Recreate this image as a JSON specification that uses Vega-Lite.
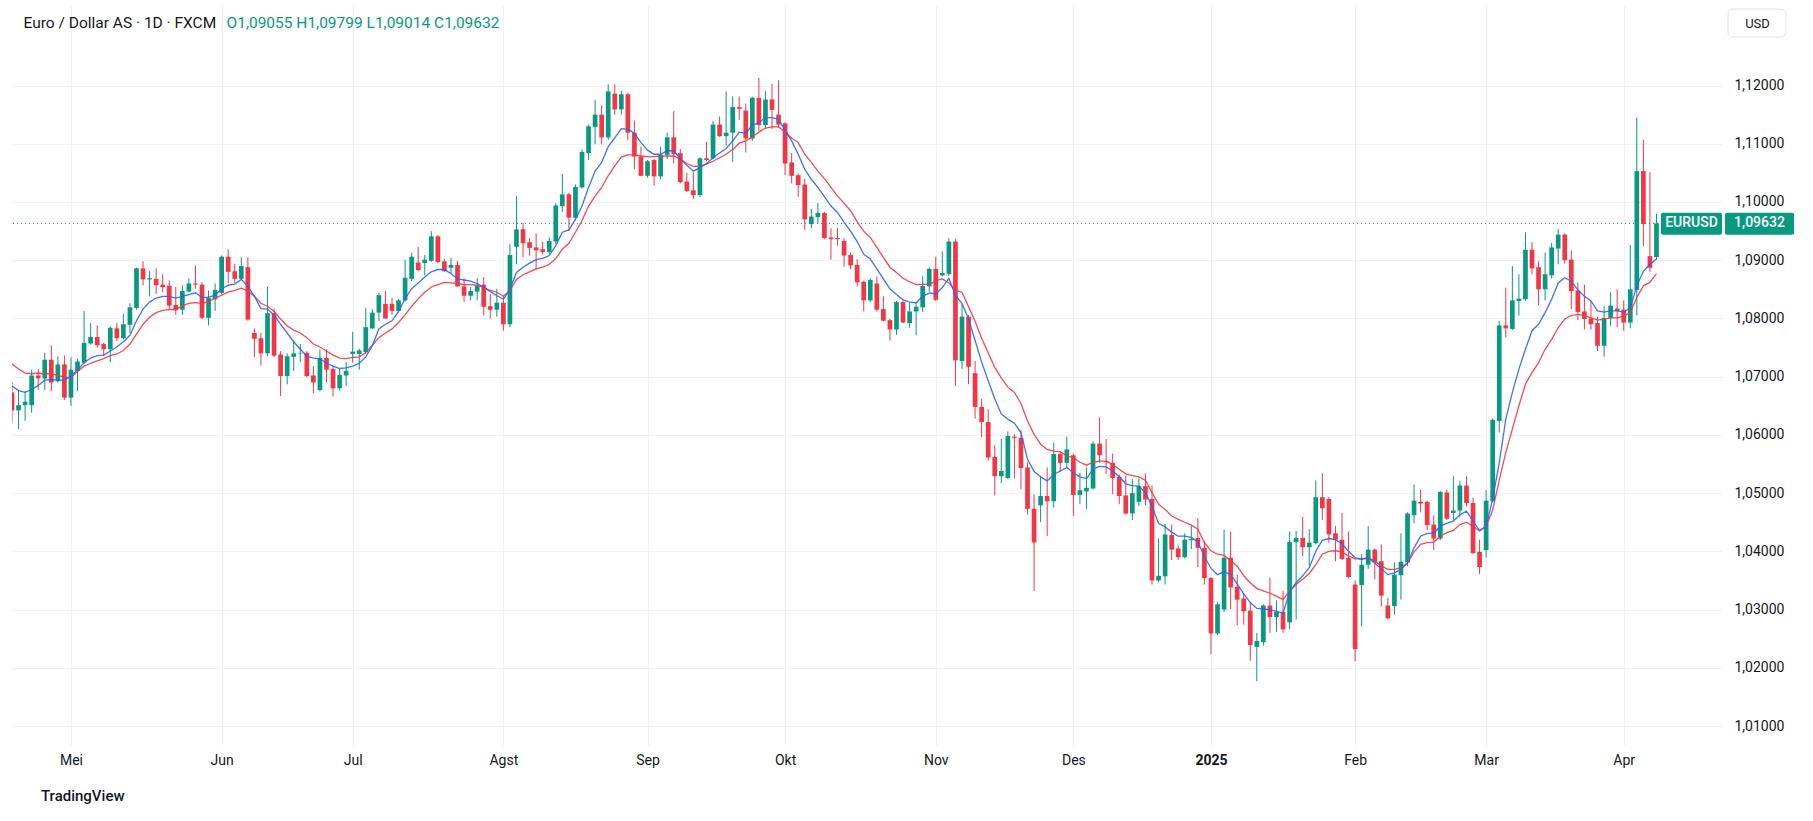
{
  "$schema": "https://vega.github.io/schema/vega-lite/v6.json",
  "width": 1710,
  "height": 740,
  "autosize": {"type": "none"},
  "padding": {"left": 12, "top": 5, "right": 91, "bottom": 76},
  "background": "white",
  "title": {"text": "TradingView", "orient": "bottom", "anchor": "start", "frame": "group", "dx": 29, "offset": 22, "fontSize": 15, "fontWeight": 500, "color": "#131722", "font": "Roboto"},
  "datasets": {
    "candles": [
      {"d":"2024-04-18","o":1.0673,"h":1.0690,"l":1.0620,"c":1.0642,"f":1.0684,"s":1.0722},
      {"d":"2024-04-19","o":1.0642,"h":1.0677,"l":1.0610,"c":1.0651,"f":1.0676,"s":1.0713},
      {"d":"2024-04-22","o":1.0651,"h":1.0675,"l":1.0624,"c":1.0657,"f":1.0673,"s":1.0706},
      {"d":"2024-04-23","o":1.0651,"h":1.0712,"l":1.0638,"c":1.0702,"f":1.0678,"s":1.0705},
      {"d":"2024-04-24","o":1.0702,"h":1.0713,"l":1.0677,"c":1.0697,"f":1.0685,"s":1.0706},
      {"d":"2024-04-25","o":1.0697,"h":1.0741,"l":1.0677,"c":1.0729,"f":1.0694,"s":1.0705},
      {"d":"2024-04-26","o":1.0729,"h":1.0754,"l":1.0675,"c":1.0690,"f":1.0695,"s":1.0705},
      {"d":"2024-04-29","o":1.0692,"h":1.0735,"l":1.0690,"c":1.0721,"f":1.0694,"s":1.0702},
      {"d":"2024-04-30","o":1.0721,"h":1.0736,"l":1.0660,"c":1.0664,"f":1.0694,"s":1.0699},
      {"d":"2024-05-01","o":1.0664,"h":1.0733,"l":1.0650,"c":1.0712,"f":1.0701,"s":1.0698},
      {"d":"2024-05-02","o":1.0710,"h":1.0731,"l":1.0675,"c":1.0726,"f":1.0712,"s":1.0709},
      {"d":"2024-05-03","o":1.0724,"h":1.0813,"l":1.0722,"c":1.0758,"f":1.0724,"s":1.0718},
      {"d":"2024-05-06","o":1.0757,"h":1.0792,"l":1.0755,"c":1.0768,"f":1.0732,"s":1.0723},
      {"d":"2024-05-07","o":1.0768,"h":1.0788,"l":1.0750,"c":1.0754,"f":1.0736,"s":1.0727},
      {"d":"2024-05-08","o":1.0756,"h":1.0758,"l":1.0735,"c":1.0747,"f":1.0737,"s":1.0731},
      {"d":"2024-05-09","o":1.0747,"h":1.0786,"l":1.0725,"c":1.0784,"f":1.0744,"s":1.0736},
      {"d":"2024-05-10","o":1.0783,"h":1.0792,"l":1.0761,"c":1.0766,"f":1.0751,"s":1.0739},
      {"d":"2024-05-13","o":1.0766,"h":1.0808,"l":1.0764,"c":1.0790,"f":1.0760,"s":1.0745},
      {"d":"2024-05-14","o":1.0789,"h":1.0826,"l":1.0775,"c":1.0819,"f":1.0771,"s":1.0756},
      {"d":"2024-05-15","o":1.0818,"h":1.0887,"l":1.0815,"c":1.0886,"f":1.0796,"s":1.0773},
      {"d":"2024-05-16","o":1.0886,"h":1.0898,"l":1.0857,"c":1.0867,"f":1.0816,"s":1.0790},
      {"d":"2024-05-17","o":1.0867,"h":1.0881,"l":1.0838,"c":1.0869,"f":1.0828,"s":1.0802},
      {"d":"2024-05-20","o":1.0868,"h":1.0886,"l":1.0842,"c":1.0857,"f":1.0835,"s":1.0810},
      {"d":"2024-05-21","o":1.0858,"h":1.0876,"l":1.0845,"c":1.0854,"f":1.0838,"s":1.0814},
      {"d":"2024-05-22","o":1.0856,"h":1.0865,"l":1.0816,"c":1.0822,"f":1.0838,"s":1.0815},
      {"d":"2024-05-23","o":1.0823,"h":1.0854,"l":1.0806,"c":1.0814,"f":1.0835,"s":1.0815},
      {"d":"2024-05-24","o":1.0815,"h":1.0857,"l":1.0806,"c":1.0847,"f":1.0838,"s":1.0822},
      {"d":"2024-05-27","o":1.0846,"h":1.0869,"l":1.0845,"c":1.0860,"f":1.0841,"s":1.0826},
      {"d":"2024-05-28","o":1.0860,"h":1.0891,"l":1.0851,"c":1.0858,"f":1.0844,"s":1.0827},
      {"d":"2024-05-29","o":1.0858,"h":1.0862,"l":1.0799,"c":1.0801,"f":1.0836,"s":1.0826},
      {"d":"2024-05-30","o":1.0801,"h":1.0848,"l":1.0788,"c":1.0835,"f":1.0836,"s":1.0829},
      {"d":"2024-05-31","o":1.0833,"h":1.0860,"l":1.0813,"c":1.0849,"f":1.0840,"s":1.0835},
      {"d":"2024-06-03","o":1.0844,"h":1.0908,"l":1.0842,"c":1.0906,"f":1.0851,"s":1.0840},
      {"d":"2024-06-04","o":1.0906,"h":1.0919,"l":1.0861,"c":1.0880,"f":1.0857,"s":1.0845},
      {"d":"2024-06-05","o":1.0881,"h":1.0894,"l":1.0861,"c":1.0868,"f":1.0859,"s":1.0848},
      {"d":"2024-06-06","o":1.0868,"h":1.0905,"l":1.0866,"c":1.0890,"f":1.0867,"s":1.0852},
      {"d":"2024-06-07","o":1.0888,"h":1.0905,"l":1.0796,"c":1.0798,"f":1.0855,"s":1.0847},
      {"d":"2024-06-10","o":1.0775,"h":1.0783,"l":1.0734,"c":1.0765,"f":1.0838,"s":1.0838},
      {"d":"2024-06-11","o":1.0766,"h":1.0775,"l":1.0719,"c":1.0740,"f":1.0817,"s":1.0826},
      {"d":"2024-06-12","o":1.0740,"h":1.0854,"l":1.0735,"c":1.0809,"f":1.0816,"s":1.0821},
      {"d":"2024-06-13","o":1.0809,"h":1.0817,"l":1.0734,"c":1.0736,"f":1.0806,"s":1.0812},
      {"d":"2024-06-14","o":1.0738,"h":1.0744,"l":1.0667,"c":1.0701,"f":1.0790,"s":1.0799},
      {"d":"2024-06-17","o":1.0701,"h":1.0740,"l":1.0687,"c":1.0735,"f":1.0775,"s":1.0787},
      {"d":"2024-06-18","o":1.0734,"h":1.0761,"l":1.0710,"c":1.0740,"f":1.0760,"s":1.0780},
      {"d":"2024-06-19","o":1.0740,"h":1.0756,"l":1.0725,"c":1.0741,"f":1.0747,"s":1.0775},
      {"d":"2024-06-20","o":1.0741,"h":1.0744,"l":1.0699,"c":1.0701,"f":1.0735,"s":1.0767},
      {"d":"2024-06-21","o":1.0702,"h":1.0718,"l":1.0672,"c":1.0690,"f":1.0732,"s":1.0756},
      {"d":"2024-06-24","o":1.0677,"h":1.0747,"l":1.0675,"c":1.0732,"f":1.0731,"s":1.0751},
      {"d":"2024-06-25","o":1.0732,"h":1.0747,"l":1.0690,"c":1.0712,"f":1.0723,"s":1.0744},
      {"d":"2024-06-26","o":1.0713,"h":1.0718,"l":1.0666,"c":1.0680,"f":1.0718,"s":1.0737},
      {"d":"2024-06-27","o":1.0680,"h":1.0713,"l":1.0676,"c":1.0703,"f":1.0714,"s":1.0732},
      {"d":"2024-06-28","o":1.0702,"h":1.0725,"l":1.0684,"c":1.0710,"f":1.0715,"s":1.0731},
      {"d":"2024-07-01","o":1.0739,"h":1.0777,"l":1.0724,"c":1.0743,"f":1.0718,"s":1.0733},
      {"d":"2024-07-02","o":1.0739,"h":1.0748,"l":1.0712,"c":1.0745,"f":1.0723,"s":1.0734},
      {"d":"2024-07-03","o":1.0742,"h":1.0818,"l":1.0740,"c":1.0785,"f":1.0734,"s":1.0741},
      {"d":"2024-07-04","o":1.0783,"h":1.0816,"l":1.0782,"c":1.0810,"f":1.0753,"s":1.0754},
      {"d":"2024-07-05","o":1.0810,"h":1.0844,"l":1.0796,"c":1.0840,"f":1.0782,"s":1.0767},
      {"d":"2024-07-08","o":1.0825,"h":1.0847,"l":1.0799,"c":1.0800,"f":1.0790,"s":1.0775},
      {"d":"2024-07-09","o":1.0825,"h":1.0835,"l":1.0806,"c":1.0813,"f":1.0796,"s":1.0782},
      {"d":"2024-07-10","o":1.0813,"h":1.0833,"l":1.0810,"c":1.0831,"f":1.0812,"s":1.0793},
      {"d":"2024-07-11","o":1.0831,"h":1.0901,"l":1.0829,"c":1.0870,"f":1.0834,"s":1.0806},
      {"d":"2024-07-12","o":1.0868,"h":1.0913,"l":1.0864,"c":1.0906,"f":1.0851,"s":1.0821},
      {"d":"2024-07-15","o":1.0896,"h":1.0923,"l":1.0881,"c":1.0883,"f":1.0861,"s":1.0834},
      {"d":"2024-07-16","o":1.0895,"h":1.0909,"l":1.0874,"c":1.0901,"f":1.0871,"s":1.0845},
      {"d":"2024-07-17","o":1.0899,"h":1.0950,"l":1.0897,"c":1.0941,"f":1.0880,"s":1.0854},
      {"d":"2024-07-18","o":1.0941,"h":1.0943,"l":1.0895,"c":1.0897,"f":1.0884,"s":1.0858},
      {"d":"2024-07-19","o":1.0898,"h":1.0902,"l":1.0880,"c":1.0881,"f":1.0884,"s":1.0862},
      {"d":"2024-07-22","o":1.0887,"h":1.0904,"l":1.0877,"c":1.0892,"f":1.0877,"s":1.0861},
      {"d":"2024-07-23","o":1.0892,"h":1.0899,"l":1.0854,"c":1.0855,"f":1.0868,"s":1.0860},
      {"d":"2024-07-24","o":1.0855,"h":1.0869,"l":1.0829,"c":1.0839,"f":1.0866,"s":1.0858},
      {"d":"2024-07-25","o":1.0839,"h":1.0854,"l":1.0831,"c":1.0847,"f":1.0864,"s":1.0858},
      {"d":"2024-07-26","o":1.0846,"h":1.0869,"l":1.0831,"c":1.0856,"f":1.0860,"s":1.0857},
      {"d":"2024-07-29","o":1.0858,"h":1.0871,"l":1.0805,"c":1.0820,"f":1.0854,"s":1.0853},
      {"d":"2024-07-30","o":1.0821,"h":1.0842,"l":1.0800,"c":1.0815,"f":1.0846,"s":1.0848},
      {"d":"2024-07-31","o":1.0815,"h":1.0851,"l":1.0803,"c":1.0827,"f":1.0839,"s":1.0845},
      {"d":"2024-08-01","o":1.0827,"h":1.0839,"l":1.0779,"c":1.0790,"f":1.0833,"s":1.0838},
      {"d":"2024-08-02","o":1.0790,"h":1.0928,"l":1.0785,"c":1.0909,"f":1.0850,"s":1.0848},
      {"d":"2024-08-05","o":1.0923,"h":1.1010,"l":1.0893,"c":1.0953,"f":1.0879,"s":1.0867},
      {"d":"2024-08-06","o":1.0953,"h":1.0964,"l":1.0905,"c":1.0929,"f":1.0888,"s":1.0875},
      {"d":"2024-08-07","o":1.0931,"h":1.0938,"l":1.0908,"c":1.0921,"f":1.0895,"s":1.0880},
      {"d":"2024-08-08","o":1.0922,"h":1.0946,"l":1.0884,"c":1.0917,"f":1.0901,"s":1.0885},
      {"d":"2024-08-09","o":1.0919,"h":1.0932,"l":1.0910,"c":1.0914,"f":1.0903,"s":1.0888},
      {"d":"2024-08-12","o":1.0914,"h":1.0939,"l":1.0910,"c":1.0933,"f":1.0908,"s":1.0893},
      {"d":"2024-08-13","o":1.0932,"h":1.0998,"l":1.0928,"c":1.0994,"f":1.0925,"s":1.0903},
      {"d":"2024-08-14","o":1.0993,"h":1.1048,"l":1.0983,"c":1.1013,"f":1.0948,"s":1.0919},
      {"d":"2024-08-15","o":1.1013,"h":1.1016,"l":1.0950,"c":1.0973,"f":1.0952,"s":1.0929},
      {"d":"2024-08-16","o":1.0973,"h":1.1030,"l":1.0969,"c":1.1026,"f":1.0970,"s":1.0948},
      {"d":"2024-08-19","o":1.1025,"h":1.1090,"l":1.1023,"c":1.1086,"f":1.0993,"s":1.0968},
      {"d":"2024-08-20","o":1.1084,"h":1.1133,"l":1.1072,"c":1.1130,"f":1.1025,"s":1.0993},
      {"d":"2024-08-21","o":1.1129,"h":1.1175,"l":1.1099,"c":1.1150,"f":1.1053,"s":1.1010},
      {"d":"2024-08-22","o":1.1150,"h":1.1166,"l":1.1099,"c":1.1111,"f":1.1068,"s":1.1025},
      {"d":"2024-08-23","o":1.1111,"h":1.1202,"l":1.1107,"c":1.1190,"f":1.1095,"s":1.1045},
      {"d":"2024-08-26","o":1.1186,"h":1.1202,"l":1.1150,"c":1.1159,"f":1.1110,"s":1.1062},
      {"d":"2024-08-27","o":1.1159,"h":1.1191,"l":1.1150,"c":1.1185,"f":1.1126,"s":1.1077},
      {"d":"2024-08-28","o":1.1185,"h":1.1187,"l":1.1106,"c":1.1119,"f":1.1125,"s":1.1081},
      {"d":"2024-08-29","o":1.1119,"h":1.1140,"l":1.1057,"c":1.1078,"f":1.1118,"s":1.1081},
      {"d":"2024-08-30","o":1.1078,"h":1.1095,"l":1.1044,"c":1.1045,"f":1.1102,"s":1.1079},
      {"d":"2024-09-02","o":1.1045,"h":1.1072,"l":1.1042,"c":1.1070,"f":1.1089,"s":1.1078},
      {"d":"2024-09-03","o":1.1072,"h":1.1074,"l":1.1028,"c":1.1044,"f":1.1082,"s":1.1078},
      {"d":"2024-09-04","o":1.1044,"h":1.1095,"l":1.1039,"c":1.1081,"f":1.1082,"s":1.1079},
      {"d":"2024-09-05","o":1.1081,"h":1.1119,"l":1.1074,"c":1.1111,"f":1.1088,"s":1.1079},
      {"d":"2024-09-06","o":1.1111,"h":1.1156,"l":1.1066,"c":1.1082,"f":1.1088,"s":1.1079},
      {"d":"2024-09-09","o":1.1084,"h":1.1091,"l":1.1032,"c":1.1034,"f":1.1074,"s":1.1074},
      {"d":"2024-09-10","o":1.1035,"h":1.1050,"l":1.1017,"c":1.1019,"f":1.1063,"s":1.1066},
      {"d":"2024-09-11","o":1.1020,"h":1.1051,"l":1.1005,"c":1.1012,"f":1.1053,"s":1.1061},
      {"d":"2024-09-12","o":1.1012,"h":1.1077,"l":1.1008,"c":1.1075,"f":1.1059,"s":1.1061},
      {"d":"2024-09-13","o":1.1075,"h":1.1103,"l":1.1070,"c":1.1072,"f":1.1066,"s":1.1065},
      {"d":"2024-09-16","o":1.1075,"h":1.1139,"l":1.1073,"c":1.1133,"f":1.1076,"s":1.1070},
      {"d":"2024-09-17","o":1.1133,"h":1.1147,"l":1.1112,"c":1.1113,"f":1.1084,"s":1.1076},
      {"d":"2024-09-18","o":1.1113,"h":1.1190,"l":1.1097,"c":1.1119,"f":1.1092,"s":1.1082},
      {"d":"2024-09-19","o":1.1119,"h":1.1181,"l":1.1069,"c":1.1163,"f":1.1105,"s":1.1090},
      {"d":"2024-09-20","o":1.1163,"h":1.1181,"l":1.1141,"c":1.1160,"f":1.1120,"s":1.1101},
      {"d":"2024-09-23","o":1.1157,"h":1.1169,"l":1.1085,"c":1.1109,"f":1.1118,"s":1.1105},
      {"d":"2024-09-24","o":1.1109,"h":1.1181,"l":1.1105,"c":1.1179,"f":1.1132,"s":1.1112},
      {"d":"2024-09-25","o":1.1179,"h":1.1213,"l":1.1122,"c":1.1132,"f":1.1136,"s":1.1120},
      {"d":"2024-09-26","o":1.1132,"h":1.1190,"l":1.1125,"c":1.1176,"f":1.1145,"s":1.1127},
      {"d":"2024-09-27","o":1.1176,"h":1.1203,"l":1.1125,"c":1.1158,"f":1.1145,"s":1.1129},
      {"d":"2024-09-30","o":1.1150,"h":1.1209,"l":1.1127,"c":1.1133,"f":1.1142,"s":1.1129},
      {"d":"2024-10-01","o":1.1135,"h":1.1137,"l":1.1046,"c":1.1066,"f":1.1123,"s":1.1120},
      {"d":"2024-10-02","o":1.1068,"h":1.1084,"l":1.1032,"c":1.1045,"f":1.1105,"s":1.1110},
      {"d":"2024-10-03","o":1.1046,"h":1.1049,"l":1.1009,"c":1.1029,"f":1.1082,"s":1.1102},
      {"d":"2024-10-04","o":1.1030,"h":1.1040,"l":1.0952,"c":1.0970,"f":1.1056,"s":1.1082},
      {"d":"2024-10-07","o":1.0962,"h":1.0988,"l":1.0955,"c":1.0975,"f":1.1039,"s":1.1068},
      {"d":"2024-10-08","o":1.0974,"h":1.0998,"l":1.0962,"c":1.0981,"f":1.1025,"s":1.1053},
      {"d":"2024-10-09","o":1.0981,"h":1.0983,"l":1.0936,"c":1.0938,"f":1.1009,"s":1.1040},
      {"d":"2024-10-10","o":1.0939,"h":1.0955,"l":1.0901,"c":1.0936,"f":1.0993,"s":1.1025},
      {"d":"2024-10-11","o":1.0938,"h":1.0955,"l":1.0925,"c":1.0936,"f":1.0982,"s":1.1010},
      {"d":"2024-10-14","o":1.0933,"h":1.0938,"l":1.0889,"c":1.0908,"f":1.0965,"s":1.0998},
      {"d":"2024-10-15","o":1.0909,"h":1.0913,"l":1.0884,"c":1.0891,"f":1.0950,"s":1.0985},
      {"d":"2024-10-16","o":1.0892,"h":1.0902,"l":1.0855,"c":1.0862,"f":1.0932,"s":1.0966},
      {"d":"2024-10-17","o":1.0863,"h":1.0865,"l":1.0812,"c":1.0831,"f":1.0910,"s":1.0950},
      {"d":"2024-10-18","o":1.0831,"h":1.0869,"l":1.0828,"c":1.0866,"f":1.0902,"s":1.0939},
      {"d":"2024-10-21","o":1.0860,"h":1.0872,"l":1.0812,"c":1.0815,"f":1.0885,"s":1.0922},
      {"d":"2024-10-22","o":1.0816,"h":1.0838,"l":1.0795,"c":1.0796,"f":1.0868,"s":1.0905},
      {"d":"2024-10-23","o":1.0797,"h":1.0799,"l":1.0762,"c":1.0781,"f":1.0851,"s":1.0888},
      {"d":"2024-10-24","o":1.0781,"h":1.0830,"l":1.0772,"c":1.0828,"f":1.0841,"s":1.0879},
      {"d":"2024-10-25","o":1.0828,"h":1.0830,"l":1.0792,"c":1.0793,"f":1.0832,"s":1.0869},
      {"d":"2024-10-28","o":1.0792,"h":1.0826,"l":1.0784,"c":1.0812,"f":1.0828,"s":1.0863},
      {"d":"2024-10-29","o":1.0812,"h":1.0828,"l":1.0771,"c":1.0820,"f":1.0827,"s":1.0858},
      {"d":"2024-10-30","o":1.0819,"h":1.0873,"l":1.0811,"c":1.0856,"f":1.0838,"s":1.0859},
      {"d":"2024-10-31","o":1.0855,"h":1.0888,"l":1.0846,"c":1.0885,"f":1.0844,"s":1.0858},
      {"d":"2024-11-01","o":1.0885,"h":1.0906,"l":1.0830,"c":1.0832,"f":1.0842,"s":1.0865},
      {"d":"2024-11-04","o":1.0874,"h":1.0915,"l":1.0872,"c":1.0878,"f":1.0853,"s":1.0868},
      {"d":"2024-11-05","o":1.0876,"h":1.0938,"l":1.0873,"c":1.0932,"f":1.0869,"s":1.0861},
      {"d":"2024-11-06","o":1.0932,"h":1.0936,"l":1.0684,"c":1.0728,"f":1.0839,"s":1.0848},
      {"d":"2024-11-07","o":1.0727,"h":1.0825,"l":1.0713,"c":1.0803,"f":1.0826,"s":1.0845},
      {"d":"2024-11-08","o":1.0803,"h":1.0806,"l":1.0687,"c":1.0717,"f":1.0799,"s":1.0820},
      {"d":"2024-11-11","o":1.0706,"h":1.0727,"l":1.0628,"c":1.0648,"f":1.0762,"s":1.0795},
      {"d":"2024-11-12","o":1.0648,"h":1.0662,"l":1.0596,"c":1.0622,"f":1.0725,"s":1.0766},
      {"d":"2024-11-13","o":1.0622,"h":1.0644,"l":1.0556,"c":1.0561,"f":1.0693,"s":1.0741},
      {"d":"2024-11-14","o":1.0562,"h":1.0582,"l":1.0496,"c":1.0529,"f":1.0662,"s":1.0716},
      {"d":"2024-11-15","o":1.0529,"h":1.0593,"l":1.0517,"c":1.0538,"f":1.0636,"s":1.0698},
      {"d":"2024-11-18","o":1.0526,"h":1.0606,"l":1.0524,"c":1.0598,"f":1.0627,"s":1.0682},
      {"d":"2024-11-19","o":1.0597,"h":1.0601,"l":1.0525,"c":1.0595,"f":1.0620,"s":1.0673},
      {"d":"2024-11-20","o":1.0595,"h":1.0608,"l":1.0507,"c":1.0543,"f":1.0604,"s":1.0654},
      {"d":"2024-11-21","o":1.0544,"h":1.0553,"l":1.0463,"c":1.0473,"f":1.0558,"s":1.0624},
      {"d":"2024-11-22","o":1.0473,"h":1.0498,"l":1.0332,"c":1.0415,"f":1.0537,"s":1.0601},
      {"d":"2024-11-25","o":1.0479,"h":1.0529,"l":1.0450,"c":1.0495,"f":1.0528,"s":1.0584},
      {"d":"2024-11-26","o":1.0495,"h":1.0544,"l":1.0426,"c":1.0486,"f":1.0521,"s":1.0575},
      {"d":"2024-11-27","o":1.0486,"h":1.0587,"l":1.0475,"c":1.0567,"f":1.0532,"s":1.0572},
      {"d":"2024-11-28","o":1.0567,"h":1.0571,"l":1.0536,"c":1.0552,"f":1.0538,"s":1.0571},
      {"d":"2024-11-29","o":1.0552,"h":1.0597,"l":1.0544,"c":1.0575,"f":1.0544,"s":1.0564},
      {"d":"2024-12-02","o":1.0565,"h":1.0568,"l":1.0461,"c":1.0497,"f":1.0535,"s":1.0561},
      {"d":"2024-12-03","o":1.0497,"h":1.0535,"l":1.0481,"c":1.0505,"f":1.0528,"s":1.0553},
      {"d":"2024-12-04","o":1.0503,"h":1.0544,"l":1.0473,"c":1.0509,"f":1.0525,"s":1.0548},
      {"d":"2024-12-05","o":1.0508,"h":1.0589,"l":1.0506,"c":1.0585,"f":1.0541,"s":1.0553},
      {"d":"2024-12-06","o":1.0585,"h":1.0630,"l":1.0552,"c":1.0565,"f":1.0546,"s":1.0555},
      {"d":"2024-12-09","o":1.0555,"h":1.0593,"l":1.0533,"c":1.0553,"f":1.0545,"s":1.0555},
      {"d":"2024-12-10","o":1.0552,"h":1.0568,"l":1.0498,"c":1.0526,"f":1.0538,"s":1.0549},
      {"d":"2024-12-11","o":1.0528,"h":1.0532,"l":1.0481,"c":1.0495,"f":1.0528,"s":1.0541},
      {"d":"2024-12-12","o":1.0496,"h":1.0530,"l":1.0463,"c":1.0465,"f":1.0516,"s":1.0533},
      {"d":"2024-12-13","o":1.0465,"h":1.0524,"l":1.0454,"c":1.0500,"f":1.0513,"s":1.0530},
      {"d":"2024-12-16","o":1.0485,"h":1.0525,"l":1.0478,"c":1.0512,"f":1.0512,"s":1.0528},
      {"d":"2024-12-17","o":1.0512,"h":1.0534,"l":1.0479,"c":1.0489,"f":1.0501,"s":1.0522},
      {"d":"2024-12-18","o":1.0490,"h":1.0513,"l":1.0343,"c":1.0350,"f":1.0478,"s":1.0501},
      {"d":"2024-12-19","o":1.0350,"h":1.0422,"l":1.0347,"c":1.0358,"f":1.0448,"s":1.0481},
      {"d":"2024-12-20","o":1.0357,"h":1.0447,"l":1.0343,"c":1.0429,"f":1.0442,"s":1.0472},
      {"d":"2024-12-23","o":1.0428,"h":1.0446,"l":1.0385,"c":1.0403,"f":1.0433,"s":1.0461},
      {"d":"2024-12-24","o":1.0405,"h":1.0410,"l":1.0385,"c":1.0390,"f":1.0426,"s":1.0455},
      {"d":"2024-12-26","o":1.0390,"h":1.0431,"l":1.0388,"c":1.0420,"f":1.0426,"s":1.0450},
      {"d":"2024-12-27","o":1.0419,"h":1.0444,"l":1.0404,"c":1.0421,"f":1.0424,"s":1.0445},
      {"d":"2024-12-30","o":1.0423,"h":1.0457,"l":1.0373,"c":1.0406,"f":1.0416,"s":1.0438},
      {"d":"2024-12-31","o":1.0406,"h":1.0418,"l":1.0343,"c":1.0354,"f":1.0391,"s":1.0415},
      {"d":"2025-01-02","o":1.0354,"h":1.0356,"l":1.0223,"c":1.0259,"f":1.0371,"s":1.0401},
      {"d":"2025-01-03","o":1.0259,"h":1.0312,"l":1.0257,"c":1.0309,"f":1.0360,"s":1.0395},
      {"d":"2025-01-06","o":1.0300,"h":1.0437,"l":1.0296,"c":1.0389,"f":1.0365,"s":1.0393},
      {"d":"2025-01-07","o":1.0389,"h":1.0434,"l":1.0301,"c":1.0338,"f":1.0360,"s":1.0384},
      {"d":"2025-01-08","o":1.0339,"h":1.0360,"l":1.0273,"c":1.0317,"f":1.0344,"s":1.0375},
      {"d":"2025-01-09","o":1.0319,"h":1.0328,"l":1.0274,"c":1.0297,"f":1.0327,"s":1.0358},
      {"d":"2025-01-10","o":1.0298,"h":1.0312,"l":1.0212,"c":1.0239,"f":1.0312,"s":1.0346},
      {"d":"2025-01-13","o":1.0236,"h":1.0260,"l":1.0177,"c":1.0246,"f":1.0302,"s":1.0336},
      {"d":"2025-01-14","o":1.0244,"h":1.0309,"l":1.0238,"c":1.0307,"f":1.0301,"s":1.0332},
      {"d":"2025-01-15","o":1.0307,"h":1.0355,"l":1.0260,"c":1.0287,"f":1.0300,"s":1.0328},
      {"d":"2025-01-16","o":1.0287,"h":1.0316,"l":1.0261,"c":1.0296,"f":1.0297,"s":1.0323},
      {"d":"2025-01-17","o":1.0296,"h":1.0332,"l":1.0260,"c":1.0266,"f":1.0294,"s":1.0317},
      {"d":"2025-01-20","o":1.0278,"h":1.0434,"l":1.0267,"c":1.0416,"f":1.0330,"s":1.0332},
      {"d":"2025-01-21","o":1.0416,"h":1.0435,"l":1.0283,"c":1.0423,"f":1.0346,"s":1.0343},
      {"d":"2025-01-22","o":1.0423,"h":1.0459,"l":1.0392,"c":1.0407,"f":1.0358,"s":1.0352},
      {"d":"2025-01-23","o":1.0407,"h":1.0438,"l":1.0375,"c":1.0415,"f":1.0372,"s":1.0362},
      {"d":"2025-01-24","o":1.0414,"h":1.0522,"l":1.0412,"c":1.0493,"f":1.0400,"s":1.0377},
      {"d":"2025-01-27","o":1.0493,"h":1.0534,"l":1.0454,"c":1.0474,"f":1.0419,"s":1.0395},
      {"d":"2025-01-28","o":1.0490,"h":1.0493,"l":1.0415,"c":1.0429,"f":1.0422,"s":1.0400},
      {"d":"2025-01-29","o":1.0431,"h":1.0444,"l":1.0383,"c":1.0420,"f":1.0420,"s":1.0401},
      {"d":"2025-01-30","o":1.0420,"h":1.0466,"l":1.0385,"c":1.0387,"f":1.0413,"s":1.0399},
      {"d":"2025-01-31","o":1.0389,"h":1.0434,"l":1.0354,"c":1.0356,"f":1.0400,"s":1.0392},
      {"d":"2025-02-03","o":1.0343,"h":1.0350,"l":1.0211,"c":1.0232,"f":1.0389,"s":1.0387},
      {"d":"2025-02-04","o":1.0342,"h":1.0395,"l":1.0271,"c":1.0377,"f":1.0386,"s":1.0387},
      {"d":"2025-02-05","o":1.0377,"h":1.0443,"l":1.0370,"c":1.0403,"f":1.0389,"s":1.0389},
      {"d":"2025-02-06","o":1.0403,"h":1.0405,"l":1.0352,"c":1.0381,"f":1.0380,"s":1.0383},
      {"d":"2025-02-07","o":1.0383,"h":1.0412,"l":1.0305,"c":1.0324,"f":1.0370,"s":1.0375},
      {"d":"2025-02-10","o":1.0307,"h":1.0320,"l":1.0283,"c":1.0285,"f":1.0360,"s":1.0369},
      {"d":"2025-02-11","o":1.0306,"h":1.0381,"l":1.0291,"c":1.0360,"f":1.0363,"s":1.0369},
      {"d":"2025-02-12","o":1.0359,"h":1.0431,"l":1.0317,"c":1.0382,"f":1.0369,"s":1.0372},
      {"d":"2025-02-13","o":1.0381,"h":1.0467,"l":1.0375,"c":1.0465,"f":1.0380,"s":1.0380},
      {"d":"2025-02-14","o":1.0462,"h":1.0515,"l":1.0448,"c":1.0487,"f":1.0406,"s":1.0399},
      {"d":"2025-02-17","o":1.0485,"h":1.0506,"l":1.0467,"c":1.0482,"f":1.0426,"s":1.0412},
      {"d":"2025-02-18","o":1.0485,"h":1.0487,"l":1.0436,"c":1.0445,"f":1.0431,"s":1.0415},
      {"d":"2025-02-19","o":1.0446,"h":1.0462,"l":1.0402,"c":1.0422,"f":1.0431,"s":1.0416},
      {"d":"2025-02-20","o":1.0422,"h":1.0504,"l":1.0419,"c":1.0502,"f":1.0443,"s":1.0426},
      {"d":"2025-02-21","o":1.0501,"h":1.0506,"l":1.0454,"c":1.0456,"f":1.0448,"s":1.0432},
      {"d":"2025-02-24","o":1.0466,"h":1.0529,"l":1.0454,"c":1.0470,"f":1.0452,"s":1.0436},
      {"d":"2025-02-25","o":1.0470,"h":1.0521,"l":1.0458,"c":1.0513,"f":1.0463,"s":1.0446},
      {"d":"2025-02-26","o":1.0513,"h":1.0529,"l":1.0477,"c":1.0483,"f":1.0469,"s":1.0450},
      {"d":"2025-02-27","o":1.0483,"h":1.0492,"l":1.0395,"c":1.0397,"f":1.0452,"s":1.0443},
      {"d":"2025-02-28","o":1.0399,"h":1.0420,"l":1.0361,"c":1.0373,"f":1.0436,"s":1.0435},
      {"d":"2025-03-03","o":1.0402,"h":1.0505,"l":1.0389,"c":1.0487,"f":1.0443,"s":1.0443},
      {"d":"2025-03-04","o":1.0486,"h":1.0628,"l":1.0484,"c":1.0626,"f":1.0490,"s":1.0471},
      {"d":"2025-03-05","o":1.0624,"h":1.0796,"l":1.0604,"c":1.0788,"f":1.0552,"s":1.0522},
      {"d":"2025-03-06","o":1.0788,"h":1.0853,"l":1.0767,"c":1.0783,"f":1.0627,"s":1.0570},
      {"d":"2025-03-07","o":1.0782,"h":1.0890,"l":1.0780,"c":1.0831,"f":1.0673,"s":1.0610},
      {"d":"2025-03-10","o":1.0830,"h":1.0876,"l":1.0805,"c":1.0834,"f":1.0713,"s":1.0650},
      {"d":"2025-03-11","o":1.0833,"h":1.0948,"l":1.0830,"c":1.0918,"f":1.0747,"s":1.0687},
      {"d":"2025-03-12","o":1.0918,"h":1.0931,"l":1.0876,"c":1.0886,"f":1.0779,"s":1.0707},
      {"d":"2025-03-13","o":1.0888,"h":1.0898,"l":1.0823,"c":1.0850,"f":1.0790,"s":1.0724},
      {"d":"2025-03-14","o":1.0850,"h":1.0913,"l":1.0831,"c":1.0876,"f":1.0810,"s":1.0747},
      {"d":"2025-03-17","o":1.0874,"h":1.0930,"l":1.0869,"c":1.0922,"f":1.0833,"s":1.0764},
      {"d":"2025-03-18","o":1.0920,"h":1.0954,"l":1.0893,"c":1.0944,"f":1.0861,"s":1.0784},
      {"d":"2025-03-19","o":1.0944,"h":1.0946,"l":1.0894,"c":1.0900,"f":1.0870,"s":1.0799},
      {"d":"2025-03-20","o":1.0901,"h":1.0917,"l":1.0816,"c":1.0847,"f":1.0864,"s":1.0805},
      {"d":"2025-03-21","o":1.0848,"h":1.0862,"l":1.0797,"c":1.0811,"f":1.0849,"s":1.0807},
      {"d":"2025-03-24","o":1.0812,"h":1.0858,"l":1.0781,"c":1.0799,"f":1.0838,"s":1.0805},
      {"d":"2025-03-25","o":1.0800,"h":1.0830,"l":1.0781,"c":1.0790,"f":1.0830,"s":1.0801},
      {"d":"2025-03-26","o":1.0792,"h":1.0803,"l":1.0744,"c":1.0753,"f":1.0813,"s":1.0797},
      {"d":"2025-03-27","o":1.0753,"h":1.0821,"l":1.0734,"c":1.0801,"f":1.0811,"s":1.0799},
      {"d":"2025-03-28","o":1.0801,"h":1.0845,"l":1.0787,"c":1.0822,"f":1.0813,"s":1.0801},
      {"d":"2025-03-31","o":1.0817,"h":1.0850,"l":1.0785,"c":1.0813,"f":1.0813,"s":1.0801},
      {"d":"2025-04-01","o":1.0815,"h":1.0831,"l":1.0779,"c":1.0793,"f":1.0811,"s":1.0804},
      {"d":"2025-04-02","o":1.0793,"h":1.0926,"l":1.0783,"c":1.0850,"f":1.0818,"s":1.0810},
      {"d":"2025-04-03","o":1.0849,"h":1.1145,"l":1.0805,"c":1.1053,"f":1.0856,"s":1.0836},
      {"d":"2025-04-04","o":1.1053,"h":1.1107,"l":1.0924,"c":1.0962,"f":1.0881,"s":1.0856},
      {"d":"2025-04-07","o":1.0907,"h":1.1051,"l":1.0880,"c":1.0887,"f":1.0893,"s":1.0862},
      {"d":"2025-04-08","o":1.09055,"h":1.09799,"l":1.09014,"c":1.09632,"f":1.0902,"s":1.0877}
    ],
    "last": [
      {"sym": "EURUSD", "price": 1.09632, "label": "1,09632"}
    ]
  },
  "layer": [
    {
      "data": {"name": "candles"},
      "encoding": {
        "x": {
          "field": "d",
          "type": "ordinal",
          "scale": {
            "type": "point",
            "padding": 0,
            "domain": ["2024-04-18","2024-04-19","2024-04-22","2024-04-23","2024-04-24","2024-04-25","2024-04-26","2024-04-29","2024-04-30","2024-05-01","2024-05-02","2024-05-03","2024-05-06","2024-05-07","2024-05-08","2024-05-09","2024-05-10","2024-05-13","2024-05-14","2024-05-15","2024-05-16","2024-05-17","2024-05-20","2024-05-21","2024-05-22","2024-05-23","2024-05-24","2024-05-27","2024-05-28","2024-05-29","2024-05-30","2024-05-31","2024-06-03","2024-06-04","2024-06-05","2024-06-06","2024-06-07","2024-06-10","2024-06-11","2024-06-12","2024-06-13","2024-06-14","2024-06-17","2024-06-18","2024-06-19","2024-06-20","2024-06-21","2024-06-24","2024-06-25","2024-06-26","2024-06-27","2024-06-28","2024-07-01","2024-07-02","2024-07-03","2024-07-04","2024-07-05","2024-07-08","2024-07-09","2024-07-10","2024-07-11","2024-07-12","2024-07-15","2024-07-16","2024-07-17","2024-07-18","2024-07-19","2024-07-22","2024-07-23","2024-07-24","2024-07-25","2024-07-26","2024-07-29","2024-07-30","2024-07-31","2024-08-01","2024-08-02","2024-08-05","2024-08-06","2024-08-07","2024-08-08","2024-08-09","2024-08-12","2024-08-13","2024-08-14","2024-08-15","2024-08-16","2024-08-19","2024-08-20","2024-08-21","2024-08-22","2024-08-23","2024-08-26","2024-08-27","2024-08-28","2024-08-29","2024-08-30","2024-09-02","2024-09-03","2024-09-04","2024-09-05","2024-09-06","2024-09-09","2024-09-10","2024-09-11","2024-09-12","2024-09-13","2024-09-16","2024-09-17","2024-09-18","2024-09-19","2024-09-20","2024-09-23","2024-09-24","2024-09-25","2024-09-26","2024-09-27","2024-09-30","2024-10-01","2024-10-02","2024-10-03","2024-10-04","2024-10-07","2024-10-08","2024-10-09","2024-10-10","2024-10-11","2024-10-14","2024-10-15","2024-10-16","2024-10-17","2024-10-18","2024-10-21","2024-10-22","2024-10-23","2024-10-24","2024-10-25","2024-10-28","2024-10-29","2024-10-30","2024-10-31","2024-11-01","2024-11-04","2024-11-05","2024-11-06","2024-11-07","2024-11-08","2024-11-11","2024-11-12","2024-11-13","2024-11-14","2024-11-15","2024-11-18","2024-11-19","2024-11-20","2024-11-21","2024-11-22","2024-11-25","2024-11-26","2024-11-27","2024-11-28","2024-11-29","2024-12-02","2024-12-03","2024-12-04","2024-12-05","2024-12-06","2024-12-09","2024-12-10","2024-12-11","2024-12-12","2024-12-13","2024-12-16","2024-12-17","2024-12-18","2024-12-19","2024-12-20","2024-12-23","2024-12-24","2024-12-26","2024-12-27","2024-12-30","2024-12-31","2025-01-02","2025-01-03","2025-01-06","2025-01-07","2025-01-08","2025-01-09","2025-01-10","2025-01-13","2025-01-14","2025-01-15","2025-01-16","2025-01-17","2025-01-20","2025-01-21","2025-01-22","2025-01-23","2025-01-24","2025-01-27","2025-01-28","2025-01-29","2025-01-30","2025-01-31","2025-02-03","2025-02-04","2025-02-05","2025-02-06","2025-02-07","2025-02-10","2025-02-11","2025-02-12","2025-02-13","2025-02-14","2025-02-17","2025-02-18","2025-02-19","2025-02-20","2025-02-21","2025-02-24","2025-02-25","2025-02-26","2025-02-27","2025-02-28","2025-03-03","2025-03-04","2025-03-05","2025-03-06","2025-03-07","2025-03-10","2025-03-11","2025-03-12","2025-03-13","2025-03-14","2025-03-17","2025-03-18","2025-03-19","2025-03-20","2025-03-21","2025-03-24","2025-03-25","2025-03-26","2025-03-27","2025-03-28","2025-03-31","2025-04-01","2025-04-02","2025-04-03","2025-04-04","2025-04-07","2025-04-08","2025-04-09","2025-04-10","2025-04-11","2025-04-14","2025-04-15","2025-04-16","2025-04-17","2025-04-18","2025-04-21","2025-04-22"]
          },
          "axis": {
            "values": ["2024-05-01","2024-06-03","2024-07-01","2024-08-01","2024-09-02","2024-10-01","2024-11-01","2024-12-02","2025-01-02","2025-02-03","2025-03-03","2025-04-01"],
            "labelExpr": "['Mei','Jun','Jul','Agst','Sep','Okt','Nov','Des','2025','Feb','Mar','Apr'][indexof(['2024-05-01','2024-06-03','2024-07-01','2024-08-01','2024-09-02','2024-10-01','2024-11-01','2024-12-02','2025-01-02','2025-02-03','2025-03-03','2025-04-01'], datum.value)]",
            "labelFontWeight": {"condition": {"test": "datum.value == '2025-01-02'", "value": "bold"}, "value": "normal"},
            "labelAngle": 0,
            "labelFontSize": 14,
            "labelColor": "#131722",
            "labelPadding": 8,
            "grid": true,
            "gridColor": "#EEF1F6",
            "domain": false,
            "ticks": false,
            "title": "Euro / Dollar AS · 1D · FXCM",
            "titleX": 11,
            "titleY": -723,
            "titleAlign": "left",
            "titleAnchor": "start",
            "titleBaseline": "middle",
            "titleFontSize": 15.5,
            "titleFontWeight": "normal",
            "titleColor": "#131722"
          }
        }
      },
      "layer": [
        {
          "mark": {"type": "rule", "strokeWidth": 1, "clip": true},
          "encoding": {
            "y": {
              "field": "l",
              "type": "quantitative",
              "scale": {"domain": [1.00674, 1.13383], "nice": false, "zero": false},
              "axis": {
                "orient": "right",
                "values": [1.01, 1.02, 1.03, 1.04, 1.05, 1.06, 1.07, 1.08, 1.09, 1.1, 1.11, 1.12],
                "labelExpr": "replace(format(datum.value, '.5f'), '.', ',')",
                "labelFontSize": 14,
                "labelColor": "#131722",
                "labelPadding": 12,
                "labelAlign": "left",
                "labelBaseline": "middle",
                "grid": true,
                "gridColor": "#EEF1F6",
                "domain": false,
                "ticks": false,
                "title": "USD",
                "titleAngle": 0,
                "titleX": 35,
                "titleY": 18,
                "titleAlign": "center",
                "titleBaseline": "middle",
                "titleFontSize": 13,
                "titleFontWeight": "normal",
                "titleColor": "#131722"
              }
            },
            "y2": {"field": "h"},
            "color": {"condition": {"test": "datum.c >= datum.o", "value": "#089981"}, "value": "#F23645"}
          }
        },
        {
          "mark": {"type": "bar", "width": 4.7, "clip": true},
          "encoding": {
            "y": {"field": "o", "type": "quantitative", "scale": {"domain": [1.00674, 1.13383], "nice": false, "zero": false}},
            "y2": {"field": "c"},
            "color": {"condition": {"test": "datum.c >= datum.o", "value": "#089981"}, "value": "#F23645"}
          }
        },
        {
          "mark": {"type": "line", "color": "#F23645", "strokeWidth": 1.3, "opacity": 0.9, "clip": true},
          "encoding": {
            "y": {"field": "s", "type": "quantitative", "scale": {"domain": [1.00674, 1.13383], "nice": false, "zero": false}}
          }
        },
        {
          "mark": {"type": "line", "color": "#2962FF", "strokeWidth": 1.3, "opacity": 0.9, "clip": true},
          "encoding": {
            "y": {"field": "f", "type": "quantitative", "scale": {"domain": [1.00674, 1.13383], "nice": false, "zero": false}}
          }
        }
      ]
    },
    {
      "data": {"name": "last"},
      "layer": [
        {
          "mark": {"type": "rule", "color": "#089981", "strokeWidth": 1, "strokeDash": [1, 3]},
          "encoding": {
            "y": {"field": "price", "type": "quantitative", "scale": {"domain": [1.00674, 1.13383], "nice": false, "zero": false}}
          }
        },
        {
          "mark": {"type": "rect", "color": "#089981", "cornerRadius": 2},
          "encoding": {
            "x": {
              "datum": 0.96433,
              "type": "quantitative",
              "scale": {"domain": [0, 1], "nice": false, "zero": false},
              "axis": {
                "orient": "top",
                "labels": false,
                "ticks": false,
                "domain": false,
                "grid": false,
                "title": "O1,09055  H1,09799  L1,09014  C1,09632",
                "titleX": 214,
                "titleY": 17,
                "titleAlign": "left",
                "titleAnchor": "start",
                "titleBaseline": "middle",
                "titleFontSize": 15.5,
                "titleFontWeight": "normal",
                "titleColor": "#089981"
              }
            },
            "x2": {"datum": 1.0},
            "y": {"datum": 1.09814, "type": "quantitative", "scale": {"domain": [1.00674, 1.13383], "nice": false, "zero": false}},
            "y2": {"datum": 1.09436}
          }
        },
        {
          "mark": {"type": "rect", "color": "#089981", "cornerRadius": 2},
          "encoding": {
            "x": {"datum": 1.00175, "type": "quantitative", "scale": {"domain": [0, 1], "nice": false, "zero": false}},
            "x2": {"datum": 1.04211},
            "y": {"datum": 1.09814, "type": "quantitative", "scale": {"domain": [1.00674, 1.13383], "nice": false, "zero": false}},
            "y2": {"datum": 1.09436}
          }
        },
        {
          "mark": {"type": "text", "color": "white", "fontSize": 14, "fontWeight": 500, "font": "Roboto", "align": "center", "baseline": "middle"},
          "encoding": {
            "x": {"datum": 0.98216, "type": "quantitative", "scale": {"domain": [0, 1], "nice": false, "zero": false}},
            "y": {"field": "price", "type": "quantitative", "scale": {"domain": [1.00674, 1.13383], "nice": false, "zero": false}},
            "text": {"field": "sym"}
          }
        },
        {
          "mark": {"type": "text", "color": "white", "fontSize": 14, "fontWeight": 500, "font": "Roboto", "align": "center", "baseline": "middle"},
          "encoding": {
            "x": {"datum": 1.02193, "type": "quantitative", "scale": {"domain": [0, 1], "nice": false, "zero": false}},
            "y": {"field": "price", "type": "quantitative", "scale": {"domain": [1.00674, 1.13383], "nice": false, "zero": false}},
            "text": {"field": "label"}
          }
        },
        {
          "mark": {"type": "rect", "fill": null, "stroke": "#E0E3EB", "strokeWidth": 1, "cornerRadius": 5},
          "encoding": {
            "x": {"datum": 1.00351, "type": "quantitative", "scale": {"domain": [0, 1], "nice": false, "zero": false}},
            "x2": {"datum": 1.03743},
            "y": {"datum": 1.13314, "type": "quantitative", "scale": {"domain": [1.00674, 1.13383], "nice": false, "zero": false}},
            "y2": {"datum": 1.12834}
          }
        }
      ]
    }
  ],
  "resolve": {"scale": {"x": "independent"}},
  "config": {
    "font": "Roboto",
    "view": {"stroke": null},
    "axis": {"labelFont": "Roboto", "titleFont": "Roboto"},
    "text": {"font": "Roboto"}
  }
}
